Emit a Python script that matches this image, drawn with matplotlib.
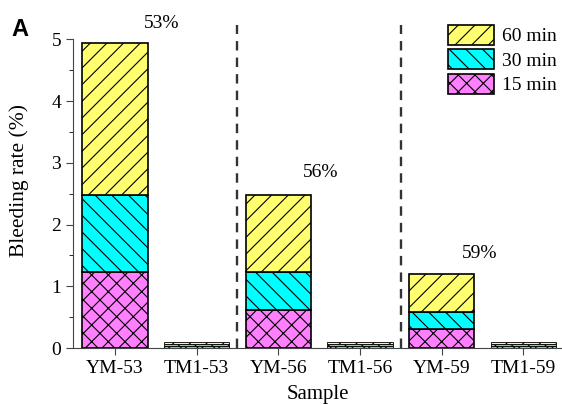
import numpy as np
import matplotlib
matplotlib.use('Agg')
import matplotlib.pyplot as plt
from matplotlib.ticker import MultipleLocator

plt.rcParams['font.family'] = ['Liberation Serif', 'DejaVu Serif']
plt.rcParams['hatch.linewidth'] = 0.8

# Bleeding rate for each sample, stacked by time
samples = ['YM-53', 'TM1-53', 'YM-56', 'TM1-56', 'YM-59', 'TM1-59']
rate_15 = [1.23, 0.03, 0.61, 0.03, 0.30, 0.03]
rate_30 = [1.25, 0.03, 0.62, 0.03, 0.29, 0.03]
rate_60 = [2.46, 0.03, 1.25, 0.03, 0.61, 0.03]
ratios = ['53%', '56%', '59%']
ratio_x = [0.57, 2.52, 4.47]
ratio_y = [5.12, 2.70, 1.39]

fig = plt.figure(figsize=(5.62, 4.05), dpi=100)
ax = fig.add_axes([0.13, 0.1407, 0.87, 0.805])

x = np.arange(len(samples))
w = 0.8
lw = [1.2 if s.startswith('YM') else 0.6 for s in samples]
b15 = ax.bar(x, rate_15, w, color='#ff80ff', edgecolor='black', hatch='xx', linewidth=lw, label='15 min')
b30 = ax.bar(x, rate_30, w, bottom=rate_15, color='#00ffff', edgecolor='black', hatch='\\\\', linewidth=lw, label='30 min')
bottom60 = np.array(rate_15) + np.array(rate_30)
b60 = ax.bar(x, rate_60, w, bottom=bottom60, color='#ffff70', edgecolor='black', hatch='//', linewidth=lw, label='60 min')

# group separators
for xv in [1.5, 3.5]:
    ax.plot([xv, xv], [0, 5.23], color='#333333', linestyle=(0, (4, 3)), linewidth=1.7)

for t, xx, yy in zip(ratios, ratio_x, ratio_y):
    ax.text(xx, yy, t, ha='center', va='bottom', fontsize=14)

ax.set_xlim(-0.514, 5.475)
ax.set_ylim(0, 5.28)
ax.spines['top'].set_visible(False)
ax.spines['right'].set_visible(False)
ax.spines['left'].set_bounds(0, 5)
ax.spines['left'].set_color('#444444')
ax.spines['bottom'].set_color('#444444')
ax.set_xticks(x)
ax.set_xticklabels(samples)
ax.yaxis.set_major_locator(MultipleLocator(1))
ax.yaxis.set_minor_locator(MultipleLocator(0.5))
ax.tick_params(labelsize=14, direction='out', color='#444444')
ax.tick_params(which='major', length=5)
ax.tick_params(which='minor', length=3)
ax.set_xlabel('Sample', fontsize=15, labelpad=6)
ax.set_ylabel('Bleeding rate (%)', fontsize=15.5)
ax.yaxis.set_label_coords(-0.09, 0.515)

ax.legend(handles=[b60, b30, b15], loc='upper right', bbox_to_anchor=(1.025, 1.045), frameon=False,
          fontsize=14, handlelength=2.4, handleheight=1.2, labelspacing=0.2, handletextpad=0.4)

fig.text(0.02, 0.91, 'A', fontsize=17, fontweight='bold', family='Liberation Sans')

fig.savefig('out.png', dpi=100)
